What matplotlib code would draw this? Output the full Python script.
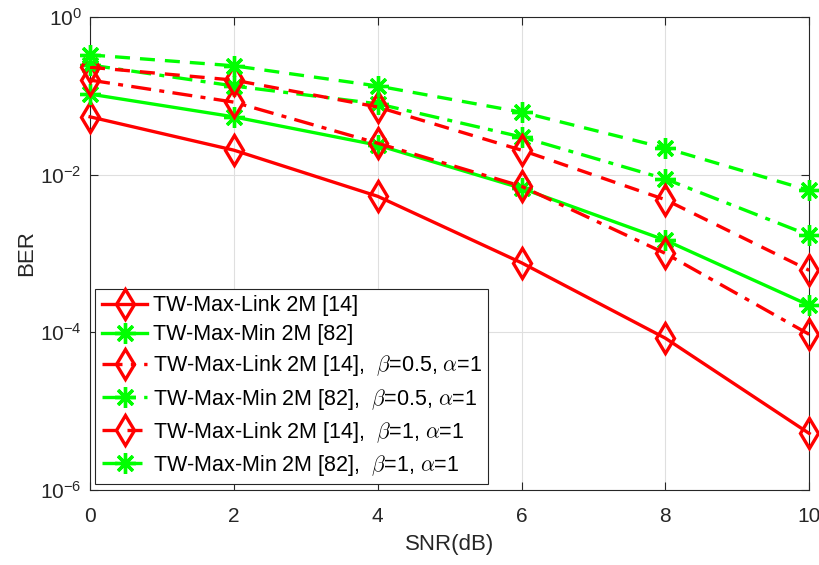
import numpy as np
import matplotlib
matplotlib.use('Agg')
import matplotlib.pyplot as plt

# ---- data ----
snr = [0, 2, 4, 6, 8, 10]

link_2m      = [0.054, 0.0204, 0.0053, 7.6e-4, 8.4e-5, 5.2e-6]
minmax_2m    = [0.105, 0.054, 0.0236, 0.0067, 1.47e-3, 2.2e-4]
link_b05     = [0.158, 0.083, 0.025, 0.0071, 1.0e-3, 9.4e-5]
minmax_b05   = [0.246, 0.133, 0.079, 0.030, 0.0088, 1.7e-3]
link_b1      = [0.23, 0.158, 0.072, 0.0204, 0.0048, 6.1e-4]
minmax_b1    = [0.33, 0.24, 0.133, 0.062, 0.0217, 0.0063]

labels = [
    'TW-Max-Link 2M [14]',
    'TW-Max-Min 2M [82]',
    r'TW-Max-Link 2M [14],  $\beta$=0.5, $\alpha$=1',
    r'TW-Max-Min 2M [82],  $\beta$=0.5, $\alpha$=1',
    r'TW-Max-Link 2M [14],  $\beta$=1, $\alpha$=1',
    r'TW-Max-Min 2M [82],  $\beta$=1, $\alpha$=1',
]

plt.rcParams['font.family'] = ['Liberation Sans', 'DejaVu Sans']
plt.rcParams['mathtext.fontset'] = 'cm'

RED, GREEN = '#ff0000', '#00ff00'
ast = (8, 2, 0)  # 8-arm asterisk like MATLAB '*'

fig = plt.figure(figsize=(8.19, 5.65), dpi=100, facecolor='white')
ax = fig.add_axes([0.110, 0.133, 0.878, 0.837])

dashdot = (0, (6, 2.5, 1.5, 2.5))
dashed = (0, (4.5, 3))

series = [
    (link_2m,    RED,   '-',     'd'),
    (minmax_2m,  GREEN, '-',     ast),
    (link_b05,   RED,   dashdot, 'd'),
    (minmax_b05, GREEN, dashdot, ast),
    (link_b1,    RED,   dashed,  'd'),
    (minmax_b1,  GREEN, dashed,  ast),
]
for (vals, c, ls, mk), lab in zip(series, labels):
    if mk == 'd':
        ax.semilogy(snr, vals, color=c, ls=ls, lw=2.4, marker='d', ms=15,
                    mfc='none', mec=c, mew=2.4, label=lab, clip_on=False, zorder=3)
    else:
        ax.semilogy(snr, vals, color=c, ls=ls, lw=2.4, marker=mk, ms=15,
                    mec=c, mew=2.4, label=lab, clip_on=False, zorder=3)

ax.set_xlim(0, 10)
ax.set_ylim(1e-6, 1)
ax.set_xticks([0, 2, 4, 6, 8, 10])
ax.set_yticks([1e-6, 1e-4, 1e-2, 1e0])
ax.yaxis.set_minor_locator(matplotlib.ticker.NullLocator())
ax.tick_params(which='both', direction='in', top=True, right=True,
               labelsize=15, length=6, color='#262626', labelcolor='#262626')
ax.tick_params(axis='x', pad=12)
ax.tick_params(axis='y', pad=6)
for sp in ax.spines.values():
    sp.set_color('#262626')
    sp.set_linewidth(0.8)
ax.grid(True, color='#dfdfdf', lw=0.8, zorder=0)
ax.set_axisbelow(True)
ax.set_xlabel('SNR(dB)', fontsize=16, labelpad=6, color='#262626')
ax.set_ylabel('BER', fontsize=16, labelpad=2, color='#262626')

leg = ax.legend(loc='lower left', fontsize=15.5, numpoints=1, handlelength=2.1,
                handletextpad=0.25, labelspacing=0.38, borderpad=0.3,
                borderaxespad=0.25, fancybox=False, framealpha=1,
                edgecolor='#262626')
leg.get_frame().set_linewidth(0.8)

plt.savefig('out.png', dpi=100, facecolor='white')
